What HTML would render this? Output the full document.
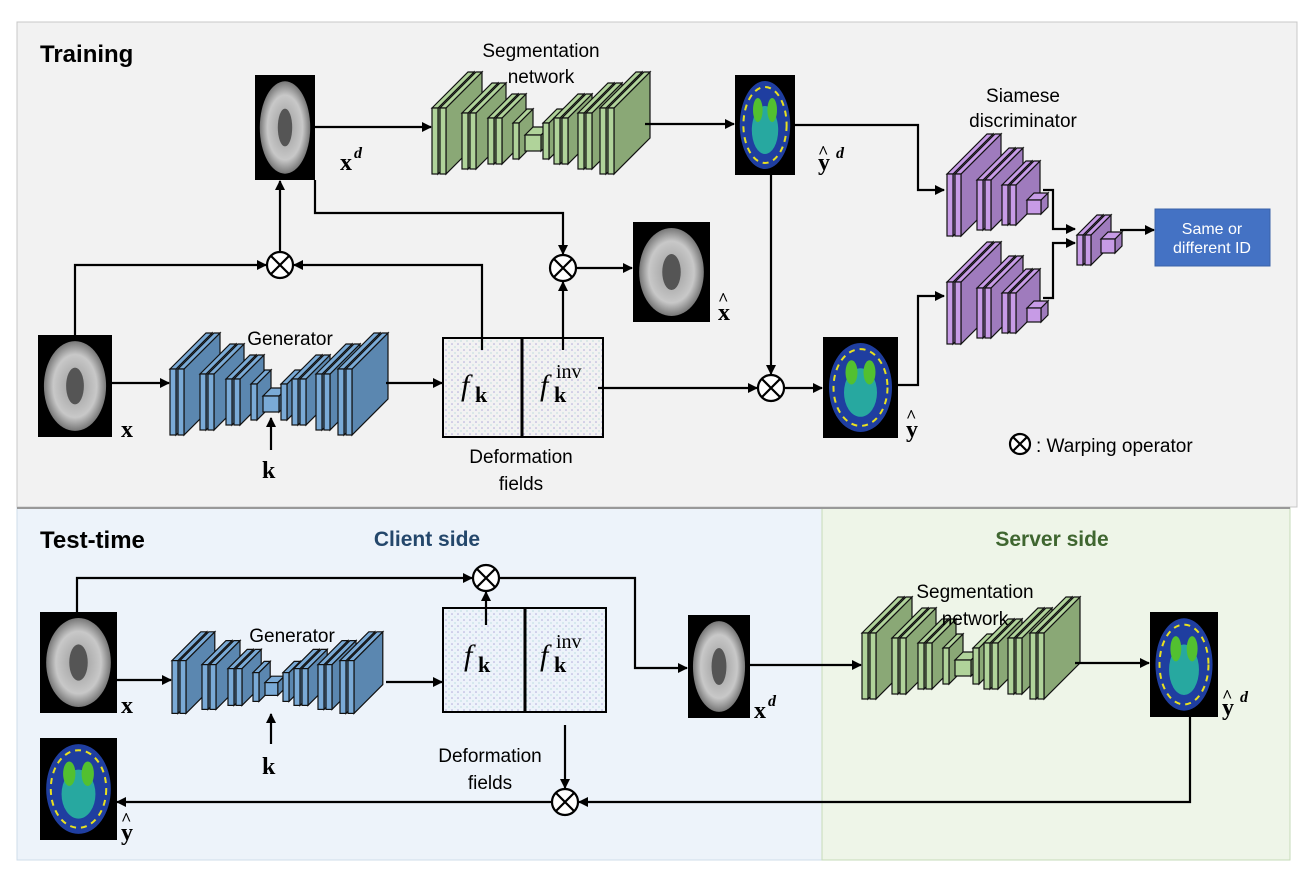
<!DOCTYPE html>
<html><head><meta charset="utf-8"><style>
html,body{margin:0;padding:0;background:#fff;}
svg{display:block;}
.t{font-family:"Liberation Sans",sans-serif;}
.m{font-family:"Liberation Serif",serif;font-weight:bold;}
</style></head><body>
<svg id="s" width="1314" height="874" viewBox="0 0 1314 874" xmlns="http://www.w3.org/2000/svg">
<defs>
<marker id="a" markerWidth="10" markerHeight="10" refX="9" refY="5" orient="auto" markerUnits="userSpaceOnUse"><path d="M0,0 L10,5 L0,10 z" fill="#000"/></marker>
<radialGradient id="br" cx="50%" cy="50%" r="50%"><stop offset="0" stop-color="#9a9a9a"/><stop offset="0.7" stop-color="#c8c8c8"/><stop offset="1" stop-color="#777"/></radialGradient>
<pattern id="dots" width="6" height="6" patternUnits="userSpaceOnUse"><circle cx="2" cy="2" r="0.8" fill="#b0a8d8"/><circle cx="5" cy="5" r="0.6" fill="#9cd0d0"/></pattern>
</defs>
<rect x="17" y="22" width="1280" height="485" fill="#f2f2f2" stroke="#c8c8c8"/>
<rect x="17" y="508" width="805" height="352" fill="#edf3fa" stroke="#cfdcea"/>
<rect x="822" y="508" width="468" height="352" fill="#eef5e8" stroke="#c6dbb8"/>
<line x1="17" y1="508" x2="1290" y2="508" stroke="#999" stroke-width="2"/>
<text x="40" y="62" class="t" font-size="24" font-weight="bold">Training</text>
<text x="40" y="548" class="t" font-size="24" font-weight="bold">Test-time</text>
<text x="427" y="546" class="t" font-size="21" font-weight="bold" fill="#24476b" text-anchor="middle">Client side</text>
<text x="1052" y="546" class="t" font-size="21" font-weight="bold" fill="#3f6630" text-anchor="middle">Server side</text>

<g id="layers"></g>
<g id="imgs"></g>

<g stroke="#000" stroke-width="2">
<rect x="443" y="338" width="160" height="99" fill="url(#dots)"/>
<line x1="522" y1="338" x2="522" y2="437" stroke-width="3"/>
<rect x="443" y="608" width="163" height="104" fill="url(#dots)"/>
<line x1="525" y1="608" x2="525" y2="712" stroke-width="3"/>
</g>
<g font-family="Liberation Serif,serif" font-size="30">
<text x="461" y="395" font-style="italic">f</text><text x="475" y="402" class="m" font-size="22">k</text>
<text x="540" y="395" font-style="italic">f</text><text x="554" y="402" class="m" font-size="22">k</text><text x="556" y="378" font-size="20">inv</text>
<text x="464" y="665" font-style="italic">f</text><text x="478" y="672" class="m" font-size="22">k</text>
<text x="540" y="665" font-style="italic">f</text><text x="554" y="672" class="m" font-size="22">k</text><text x="556" y="648" font-size="20">inv</text>
</g>

<g fill="none" stroke="#000" stroke-width="2.2">
<path d="M75,335 V265 H266" marker-end="url(#a)"/>
<path d="M280,252 V181" marker-end="url(#a)"/>
<path d="M482,350 V265 H294" marker-end="url(#a)"/>
<path d="M315,180 V213 H563 V254" marker-end="url(#a)"/>
<path d="M563,350 V282" marker-end="url(#a)"/>
<path d="M576,268 H632" marker-end="url(#a)"/>
<path d="M112,383 H169" marker-end="url(#a)"/>
<path d="M271,450 V418" marker-end="url(#a)"/>
<path d="M386,383 H442" marker-end="url(#a)"/>
<path d="M598,388 H757" marker-end="url(#a)"/>
<path d="M771,175 V374" marker-end="url(#a)"/>
<path d="M784,388 H822" marker-end="url(#a)"/>
<path d="M315,127 H431" marker-end="url(#a)"/>
<path d="M645,124 H734" marker-end="url(#a)"/>
<path d="M795,125 H918 V190 H944" marker-end="url(#a)"/>
<path d="M898,385 H918 V296 H944" marker-end="url(#a)"/>
<path d="M1043,190 H1053 V229 H1075" marker-end="url(#a)"/>
<path d="M1043,298 H1053 V243 H1075" marker-end="url(#a)"/>
<path d="M1120,230 H1154" marker-end="url(#a)"/>
<path d="M77,612 V578 H472" marker-end="url(#a)"/>
<path d="M486,625 V592" marker-end="url(#a)"/>
<path d="M499,578 H635 V668 H687" marker-end="url(#a)"/>
<path d="M117,680 H171" marker-end="url(#a)"/>
<path d="M386,682 H442" marker-end="url(#a)"/>
<path d="M271,744 V714" marker-end="url(#a)"/>
<path d="M750,665 H861" marker-end="url(#a)"/>
<path d="M1075,663 H1149" marker-end="url(#a)"/>
<path d="M1190,717 V802 H579" marker-end="url(#a)"/>
<path d="M565,725 V788" marker-end="url(#a)"/>
<path d="M552,802 H117" marker-end="url(#a)"/>
</g>
<g fill="#fff" stroke="#000" stroke-width="2.2">
<g transform="translate(280,265)"><circle r="13"/><path d="M-9,-9 L9,9 M9,-9 L-9,9"/></g>
<g transform="translate(563,268)"><circle r="13"/><path d="M-9,-9 L9,9 M9,-9 L-9,9"/></g>
<g transform="translate(771,388)"><circle r="13"/><path d="M-9,-9 L9,9 M9,-9 L-9,9"/></g>
<g transform="translate(486,578)"><circle r="13"/><path d="M-9,-9 L9,9 M9,-9 L-9,9"/></g>
<g transform="translate(565,802)"><circle r="13"/><path d="M-9,-9 L9,9 M9,-9 L-9,9"/></g>
<g transform="translate(1020,444)"><circle r="10"/><path d="M-7,-7 L7,7 M7,-7 L-7,7"/></g>
</g>
<text x="1036" y="452" class="t" font-size="19">: Warping operator</text>

<rect x="1155" y="209" width="115" height="57" fill="#4472c4" stroke="#3a62a8"/>
<text x="1212" y="234" class="t" font-size="16" fill="#fff" text-anchor="middle">Same or</text>
<text x="1212" y="253" class="t" font-size="16" fill="#fff" text-anchor="middle">different ID</text>

<g class="t" font-size="19" text-anchor="middle">
<text x="541" y="57">Segmentation</text><text x="541" y="83">network</text>
<text x="1023" y="102">Siamese</text><text x="1023" y="127">discriminator</text>
<text x="290" y="345">Generator</text>
<text x="521" y="463">Deformation</text><text x="521" y="490">fields</text>
<text x="292" y="642">Generator</text>
<text x="490" y="762">Deformation</text><text x="490" y="789">fields</text>
<text x="975" y="598">Segmentation</text><text x="975" y="625">network</text>
</g>
<g class="m" font-size="24">
<text x="121" y="437">x</text>
<text x="262" y="478">k</text>
<text x="340" y="170">x</text><text x="354" y="158" font-size="16" font-style="italic">d</text>
<text x="818" y="170">y</text><text x="818" y="158" font-size="18">^</text><text x="836" y="158" font-size="16" font-style="italic">d</text>
<text x="718" y="320">x</text><text x="718" y="305" font-size="18">^</text>
<text x="906" y="437">y</text><text x="906" y="422" font-size="18">^</text>
<text x="121" y="713">x</text>
<text x="262" y="774">k</text>
<text x="754" y="718">x</text><text x="768" y="706" font-size="16" font-style="italic">d</text>
<text x="1222" y="715">y</text><text x="1222" y="702" font-size="18">^</text><text x="1240" y="702" font-size="16" font-style="italic">d</text>
<text x="121" y="840">y</text><text x="121" y="825" font-size="18">^</text>
</g>
</svg>
<script>
var NS="http://www.w3.org/2000/svg";
function el(p,t,a){var e=document.createElementNS(NS,t);for(var k in a)e.setAttribute(k,a[k]);p.appendChild(e);return e;}
var L=document.getElementById("layers");
function slab(x,cy,h,d,w,f,lf){var y=cy-h/2;
el(L,"polygon",{points:(x+w)+","+y+" "+(x+w+d)+","+(y-d)+" "+(x+w+d)+","+(y+h-d)+" "+(x+w)+","+(y+h),fill:f,stroke:"#111","stroke-width":1.2});
el(L,"polygon",{points:x+","+y+" "+(x+d)+","+(y-d)+" "+(x+w+d)+","+(y-d)+" "+(x+w)+","+y,fill:lf,stroke:"#111","stroke-width":1.2});
el(L,"rect",{x:x,y:y,width:w,height:h,fill:lf,stroke:"#111","stroke-width":1.2});}
function cube(x,cy,s,f,lf){slab(x,cy,s,s*0.5,s,f,lf);}
function unet(x0,cy,v,f,lf){
var spec=[[0,66,36],[8,66,36],[30,56,30],[38,56,30],[56,46,24],[64,46,24],[81,36,14]];
spec.forEach(function(s){slab(x0+s[0],cy,s[1]*v,s[2]*v,6,f,lf);});
cube(x0+93,cy+2,16*v,f,lf);
var r=[[111,36,14],[122,46,24],[130,46,24],[146,56,30],[154,56,30],[168,66,36],[176,66,36]];
r.forEach(function(s){slab(x0+s[0],cy,s[1]*v,s[2]*v,6,f,lf);});}
unet(170,402,1,"#5b87b0","#7aaad6");
unet(172,687,0.8,"#5b87b0","#7aaad6");
unet(432,141,1,"#8aa876","#b0d39a");
unet(862,666,1,"#8aa876","#b0d39a");
function disc(x,cy){var P="#9f7bbd",Q="#c79be6";
slab(x,cy,62,40,6,P,Q);slab(x+8,cy,62,40,6,P,Q);
slab(x+30,cy,50,32,6,P,Q);slab(x+38,cy,50,32,6,P,Q);
slab(x+55,cy,40,24,6,P,Q);slab(x+63,cy,40,24,6,P,Q);
cube(x+80,cy+2,14,P,Q);}
disc(947,205);disc(947,313);
(function(){var P="#9f7bbd",Q="#c79be6";slab(1077,250,30,20,6,P,Q);slab(1085,250,30,20,6,P,Q);cube(1101,246,14,P,Q);})();
var I=document.getElementById("imgs");
function img(x,y,w,h,seg){el(I,"rect",{x:x,y:y,width:w,height:h,fill:"#000"});
if(seg){el(I,"ellipse",{cx:x+w/2,cy:y+h/2,rx:w*0.42,ry:h*0.44,fill:"#1f3ea0"});
el(I,"ellipse",{cx:x+w/2,cy:y+h/2,rx:w*0.36,ry:h*0.38,fill:"none",stroke:"#e8e020","stroke-width":2,"stroke-dasharray":"6 5"});
el(I,"ellipse",{cx:x+w/2,cy:y+h*0.55,rx:w*0.22,ry:h*0.24,fill:"#27a8a0"});
el(I,"ellipse",{cx:x+w*0.38,cy:y+h*0.35,rx:w*0.08,ry:h*0.12,fill:"#52c030"});
el(I,"ellipse",{cx:x+w*0.62,cy:y+h*0.35,rx:w*0.08,ry:h*0.12,fill:"#52c030"});}
else{el(I,"ellipse",{cx:x+w/2,cy:y+h/2,rx:w*0.42,ry:h*0.44,fill:"url(#br)"});
el(I,"ellipse",{cx:x+w/2,cy:y+h*0.5,rx:w*0.12,ry:h*0.18,fill:"#555"});}}
img(38,335,74,102,0);img(255,75,60,105,0);img(735,75,60,100,1);img(633,222,77,100,0);img(823,337,75,101,1);
img(40,612,77,101,0);img(688,615,62,103,0);img(1150,612,68,105,1);img(40,738,77,102,1);
</script>
</body></html>
